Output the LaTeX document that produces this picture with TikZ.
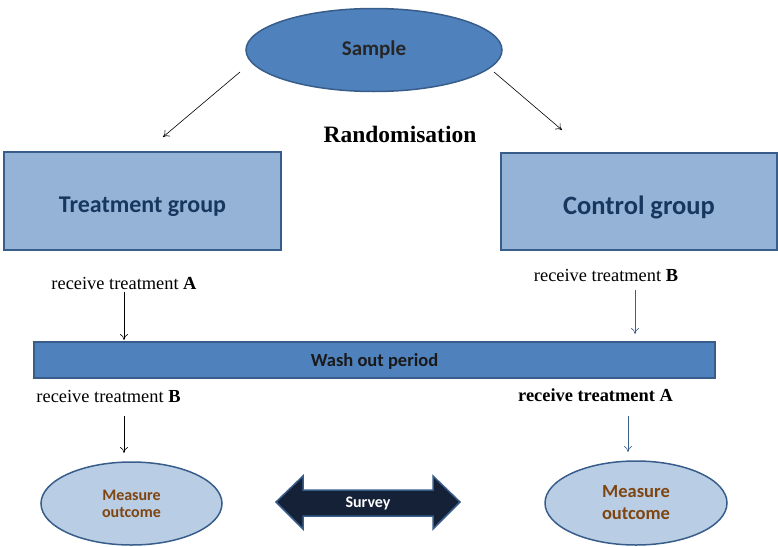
\documentclass[tikz,border=0pt]{standalone}
\usepackage{fontspec}
\setmainfont{Liberation Serif}
\newfontfamily\carlitofont{Carlito}
\usetikzlibrary{arrows.meta,shapes.geometric}
\definecolor{bordblue}{HTML}{385D8A}
\definecolor{midblue}{HTML}{4F81BD}
\definecolor{lightblue}{HTML}{95B3D7}
\definecolor{paleblue}{HTML}{B9CDE5}
\definecolor{navytext}{HTML}{17375E}
\definecolor{browntext}{HTML}{7F4510}
\definecolor{surveyfill}{HTML}{142136}
\definecolor{arrowblue}{HTML}{3A5F8F}
\tikzset{
  x=1pt,y=-1pt,
  conn/.style={-{To[length=6pt,width=8pt]},line width=0.6pt},
  groupbox/.style={draw=bordblue,line width=1.5pt,fill=lightblue,text=navytext,inner sep=0pt,text depth=0pt},
  outcome/.style={ellipse,draw=bordblue,line width=1.5pt,fill=paleblue,font=\carlitofont\bfseries\fontsize{16}{19}\selectfont,text=browntext,align=center,inner sep=0pt},
  lbl/.style={font=\fontsize{18.4}{20}\selectfont,inner sep=0pt},
}
\begin{document}
\begin{tikzpicture}
\useasboundingbox (0,0) rectangle (778,546);
% Sample
\node[ellipse,draw=bordblue,line width=1.5pt,fill=midblue,minimum width=256pt,minimum height=83pt,inner sep=0pt,text height=10pt,text depth=0pt,font=\carlitofont\bfseries\fontsize{21}{23}\selectfont,text=black!85] (sample) at (374,50) {Sample};
\node[font=\bfseries\fontsize{23.5}{25}\selectfont,inner sep=0pt] (rand) at (400,134) {Randomisation};
% groups
\node[groupbox,minimum width=277pt,minimum height=98pt,text height=22pt,font=\carlitofont\bfseries\fontsize{24}{26}\selectfont] (treat) at (142.5,201) {Treatment group};
\node[groupbox,minimum width=276pt,minimum height=97pt,text height=25pt,font=\carlitofont\bfseries\fontsize{26.5}{28}\selectfont] (ctrl) at (639,201.5) {Control group};
\coordinate (sl) at (240,72);
\coordinate (sr) at (494,72);
\coordinate (tl) at (163,137);
\coordinate (tr) at (562,130);
\draw[conn] (sl) -- (tl);
\draw[conn] (sr) -- (tr);
% labels
\node[lbl] (ra1) at (124,283) {receive treatment \textbf{A}};
\node[lbl] (rb1) at (606,275) {receive treatment \textbf{B}};
% wash out
\node[draw=bordblue,line width=1.5pt,fill=midblue,minimum width=681pt,minimum height=36pt,inner sep=0pt,text height=12pt,text depth=0pt,font=\carlitofont\bfseries\fontsize{18.5}{20}\selectfont,text=black!90] (wash) at (374.5,360) {Wash out period};
\coordinate (a1s) at (124,292);
\coordinate (a1e) at (124,340);
\coordinate (a2s) at (635,290);
\coordinate (a2e) at (635,334);
\draw[conn] (a1s) -- (a1e);
\draw[conn,arrowblue] (a2s) -- (a2e);
\node[lbl] (rb2) at (108.5,396) {receive treatment \textbf{B}};
\node[lbl,font=\bfseries\fontsize{18.4}{20}\selectfont] (ra2) at (595.5,395) {receive treatment A};
% outcomes
\node[outcome,minimum width=181pt,minimum height=83pt] (o1) at (131.5,503.5) {\raisebox{-2pt}{Measure}\\outcome};
\node[outcome,minimum width=182pt,minimum height=84pt,font=\carlitofont\bfseries\fontsize{18.5}{22}\selectfont] (o2) at (636,503) {Measure\\outcome};
\coordinate (a3s) at (124,416);
\coordinate (a3e) at (124,453);
\coordinate (a4s) at (628,416);
\coordinate (a4e) at (628,452);
\draw[conn] (a3s) -- (a3e);
\draw[conn,arrowblue] (a4s) -- (a4e);
% survey double arrow
\draw[draw=bordblue,line width=1.5pt,fill=surveyfill,line join=miter]
  (276,502) -- (303,476) -- (303,490) -- (433,490) -- (433,476) -- (460,502)
  -- (433,529) -- (433,516) -- (303,516) -- (303,529) -- cycle;
\node[font=\carlitofont\bfseries\fontsize{16}{18}\selectfont,text=white,inner sep=0pt] (survey) at (368,504) {Survey};
\end{tikzpicture}
\end{document}
